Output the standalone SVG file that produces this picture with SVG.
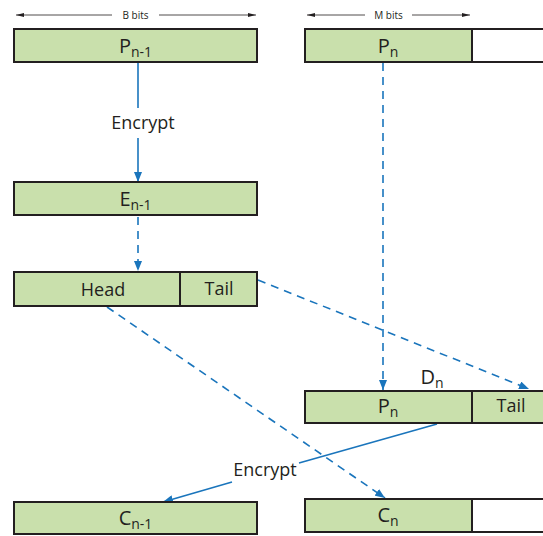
<svg xmlns="http://www.w3.org/2000/svg" width="543" height="536" viewBox="0 0 543 536">
  <style>
    .blk { fill: #c9e0ac; stroke: #231f20; stroke-width: 2; }
    .empty { fill: #ffffff; stroke: #231f20; stroke-width: 2; }
    .lbl { font-family: "Open Sans", "Liberation Sans", sans-serif; font-size: 18px; fill: #231f20; text-anchor: middle; }
    .big { font-size: 20px; }
    .sub { font-size: 14px; }
    .dim { font-family: "Open Sans", "Liberation Sans", sans-serif; font-size: 10px; fill: #231f20; text-anchor: middle; }
    .dimline { stroke: #231f20; stroke-width: 0.8; fill: none; }
    .flow { stroke: #1a75bc; stroke-width: 1.6; fill: none; }
    .dash { stroke-dasharray: 8 6; }
  </style>
  <defs>
    <marker id="ah" viewBox="0 0 10 8" refX="10" refY="4" markerWidth="10" markerHeight="8" markerUnits="userSpaceOnUse" orient="auto">
      <path d="M0,0 L10,4 L0,8 Z" fill="#1a75bc"/>
    </marker>
    <marker id="dimah" viewBox="0 0 8 4" refX="8" refY="2" markerWidth="8" markerHeight="4" markerUnits="userSpaceOnUse" orient="auto-start-reverse">
      <path d="M0,0 L8,2 L0,4 Z" fill="#231f20"/>
    </marker>
  </defs>

  <!-- width dimensions -->
  <g id="dim-b">
    <line class="dimline" x1="16" y1="15" x2="112" y2="15" marker-start="url(#dimah)"/>
    <line class="dimline" x1="159" y1="15" x2="256" y2="15" marker-end="url(#dimah)"/>
    <text class="dim" x="135.5" y="19">B bits</text>
  </g>
  <g id="dim-m">
    <line class="dimline" x1="307" y1="15" x2="365" y2="15" marker-start="url(#dimah)"/>
    <line class="dimline" x1="412" y1="15" x2="470" y2="15" marker-end="url(#dimah)"/>
    <text class="dim" x="388.5" y="19">M bits</text>
  </g>

  <!-- connectors -->
  <g id="connectors">
    <line class="flow" x1="138" y1="63" x2="138" y2="108"/>
    <line class="flow" x1="138" y1="138" x2="138" y2="182" marker-end="url(#ah)"/>
    <line class="flow dash" x1="138" y1="217" x2="138" y2="271" marker-end="url(#ah)"/>
    <line class="flow dash" x1="383" y1="63" x2="383" y2="390" marker-end="url(#ah)"/>
    <line class="flow dash" x1="258" y1="280" x2="529" y2="389" marker-end="url(#ah)"/>
    <line class="flow dash" x1="107" y1="307" x2="385" y2="498" marker-end="url(#ah)"/>
    <line class="flow" x1="437" y1="424" x2="299" y2="463"/>
    <line class="flow" x1="232" y1="482" x2="163" y2="502" marker-end="url(#ah)"/>
    <text class="lbl" x="143" y="129">Encrypt</text>
    <text class="lbl" x="265" y="476">Encrypt</text>
  </g>

  <!-- P(n-1) -->
  <g id="p-prev">
    <rect class="blk" x="14" y="29" width="243" height="33"/>
    <text class="lbl big" x="135.5" y="53">P<tspan class="sub" dy="4">n-1</tspan></text>
  </g>

  <!-- P(n) with padding -->
  <g id="p-last">
    <rect class="empty" x="472" y="29" width="80" height="33"/>
    <rect class="blk" x="305" y="29" width="167" height="33"/>
    <text class="lbl big" x="388" y="53">P<tspan class="sub" dy="4">n</tspan></text>
  </g>

  <!-- E(n-1) -->
  <g id="e-prev">
    <rect class="blk" x="14" y="182" width="243" height="33"/>
    <text class="lbl big" x="135.5" y="206">E<tspan class="sub" dy="4">n-1</tspan></text>
  </g>

  <!-- Head / Tail split -->
  <g id="head-tail">
    <rect class="blk" x="14" y="272" width="243" height="34"/>
    <line x1="180" y1="272" x2="180" y2="306" stroke="#231f20" stroke-width="2"/>
    <text class="lbl" x="103" y="296">Head</text>
    <text class="lbl" x="219" y="295">Tail</text>
  </g>

  <!-- D(n) -->
  <g id="d-n">
    <rect class="blk" x="305" y="391" width="250" height="32"/>
    <line x1="472" y1="391" x2="472" y2="423" stroke="#231f20" stroke-width="2"/>
    <text class="lbl big" x="388" y="413">P<tspan class="sub" dy="4">n</tspan></text>
    <text class="lbl" x="511" y="412">Tail</text>
    <text class="lbl big" x="432" y="384">D<tspan class="sub" dy="4">n</tspan></text>
  </g>

  <!-- C(n-1) -->
  <g id="c-prev">
    <rect class="blk" x="14" y="502" width="243" height="32"/>
    <text class="lbl big" x="135.5" y="525">C<tspan class="sub" dy="4">n-1</tspan></text>
  </g>

  <!-- C(n) with padding -->
  <g id="c-last">
    <rect class="empty" x="472" y="499" width="80" height="33"/>
    <rect class="blk" x="305" y="499" width="167" height="33"/>
    <text class="lbl big" x="388" y="522">C<tspan class="sub" dy="4">n</tspan></text>
  </g>
</svg>
